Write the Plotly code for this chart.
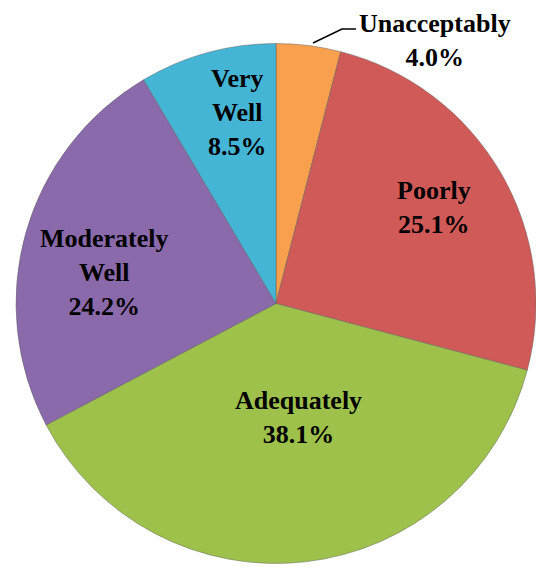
import plotly.graph_objects as go

labels = ["Unacceptably", "Poorly", "Adequately", "Moderately Well", "Very Well"]
values = [4.0, 25.1, 38.1, 24.2, 8.5]
colors = ["#F8A04E", "#D05A58", "#9DC14B", "#8A6AAA", "#45B5D6"]
label_text = ["Unacceptably<br>4.0%", "Poorly<br>25.1%", "Adequately<br>38.1%",
              "Moderately<br>Well<br>24.2%", "Very<br>Well<br>8.5%"]
label_pos = [(435, 40), (434, 207), (298, 417), (104, 273), (237, 112)]

W, H = 536, 567


def px(x):
    return x / W


def py(y):
    return 1 - y / H


fig = go.Figure(go.Pie(
    labels=labels, values=values, sort=False, direction="clockwise", rotation=0,
    marker=dict(colors=colors, line=dict(color="rgba(90,90,90,0.45)", width=1)),
    textinfo="none", hoverinfo="label+percent", showlegend=False,
    domain=dict(x=[px(16), 1.0], y=[py(566), py(41)]),
))

font = dict(family="Liberation Serif, DejaVu Serif, serif", size=26, color="black")
for t, (x, y) in zip(label_text, label_pos):
    fig.add_annotation(x=px(x), y=py(y), xref="paper", yref="paper", text="<b>" + t + "</b>",
                       showarrow=False, font=font, align="center", xanchor="center", yanchor="middle",
                       borderpad=0)

fig.add_shape(type="path", xref="paper", yref="paper",
              path=f"M {px(313)} {py(43)} L {px(342)} {py(29)} L {px(356)} {py(29)}",
              line=dict(color="black", width=1.5))

fig.update_layout(width=W, height=H, margin=dict(l=0, r=0, t=0, b=0),
                  paper_bgcolor="white", plot_bgcolor="white")
fig.write_html("out.html", config={"displayModeBar": False},
               post_script="document.body.style.margin='0';document.body.style.overflow='hidden';")
